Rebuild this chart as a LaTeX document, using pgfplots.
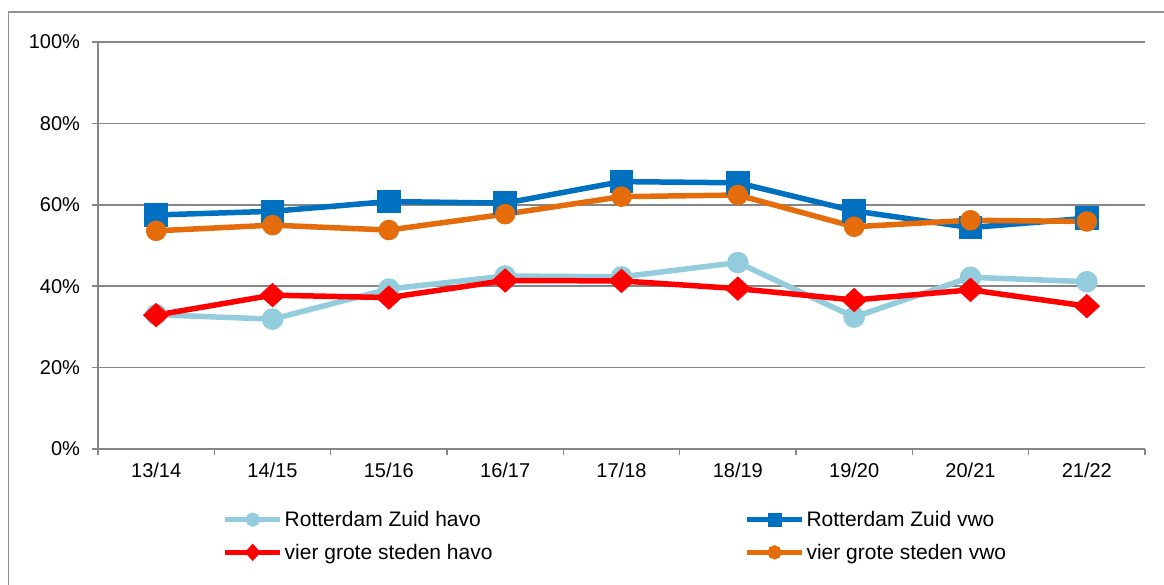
\documentclass[border=0pt]{standalone}
\usepackage{pgfplots}
\pgfplotsset{compat=1.18}
\usepackage{fontspec}
\setmainfont{Liberation Sans}
\definecolor{lblue}{HTML}{93CDDD}
\definecolor{dblue}{HTML}{0070C0}
\definecolor{orng}{HTML}{E46C0A}
\definecolor{axgray}{HTML}{868686}
\begin{document}
\begin{tikzpicture}
\useasboundingbox (0pt,0pt) rectangle (1164pt,585pt);
\draw[axgray!90, line width=1.5pt] (8.5pt,0pt) -- (8.5pt,573pt) -- (1164pt,573pt);
\begin{axis}[
  at={(98pt,136pt)}, anchor=south west,
  width=1047pt, height=407pt, scale only axis,
  xmin=-0.5, xmax=8.5, ymin=0, ymax=100,
  axis x line*=bottom, axis y line*=left,
  axis line style={draw=axgray, line width=1.5pt, -},
  xtick={-0.5,0.5,...,8.5},
  xticklabels={13/14,14/15,15/16,16/17,17/18,18/19,19/20,20/21,21/22,{}},
  xticklabel style={xshift=58.17pt, yshift=-4pt},
  ytick={0,20,...,100},
  yticklabel={\pgfmathprintnumber{\tick}\%},
  yticklabel style={xshift=-8pt},
  tick align=outside, major tick length=6.5pt,
  tick style={draw=axgray, line width=1.5pt},
  ymajorgrids, grid style={draw=axgray, line width=1.5pt},
  tick label style={font=\fontsize{20}{24}\selectfont},
  /pgf/number format/assume math mode=true,
  legend style={at={(0.4942,-0.2138)}, anchor=center, draw=none, fill=none,
    font=\fontsize{21}{25}\selectfont, legend columns=2,
    /tikz/every even column/.append style={column sep=250pt},
    row sep=12pt},
  legend cell align=left,
  legend image code/.code={\draw[mark repeat=2,mark phase=2,#1] plot coordinates {(0pt,0pt) (27.5pt,0pt) (55pt,0pt)};},
  every axis plot/.append style={line width=5.5pt},
]
\addplot[forget plot, color=lblue, mark=*, mark size=8pt, mark options={solid}] coordinates {
(0,33.0) (1,31.9) (2,39.3) (3,42.5) (4,42.3) (5,45.8) (6,32.4) (7,42.2) (8,41.1)};
\addplot[forget plot, color=dblue, mark=square*, mark size=9pt, mark options={solid}] coordinates {
(0,57.5) (1,58.4) (2,60.8) (3,60.4) (4,65.7) (5,65.4) (6,58.5) (7,54.4) (8,56.7)};
\addplot[forget plot, color=red, mark=diamond*, mark size=8.5pt, mark options={solid, xscale=1.45}] coordinates {
(0,32.9) (1,37.8) (2,37.2) (3,41.4) (4,41.3) (5,39.4) (6,36.6) (7,39.1) (8,35.1)};
\addplot[forget plot, color=orng, mark=*, mark size=7.5pt, mark options={solid}] coordinates {
(0,53.6) (1,55.0) (2,53.8) (3,57.7) (4,62.0) (5,62.4) (6,54.6) (7,56.2) (8,55.9)};
\addlegendimage{color=lblue, line width=5pt, mark=*, mark size=4.5pt, mark options={solid}}
\addlegendentry{Rotterdam Zuid havo}
\addlegendimage{color=dblue, line width=5pt, mark=square*, mark size=4.5pt, mark options={solid}}
\addlegendentry{Rotterdam Zuid vwo}
\addlegendimage{color=red, line width=5pt, mark=diamond*, mark size=5pt, mark options={solid, xscale=1.2}}
\addlegendentry{vier grote steden havo}
\addlegendimage{color=orng, line width=5pt, mark=*, mark size=4.5pt, mark options={solid}}
\addlegendentry{vier grote steden vwo}
\end{axis}
\end{tikzpicture}
\end{document}
